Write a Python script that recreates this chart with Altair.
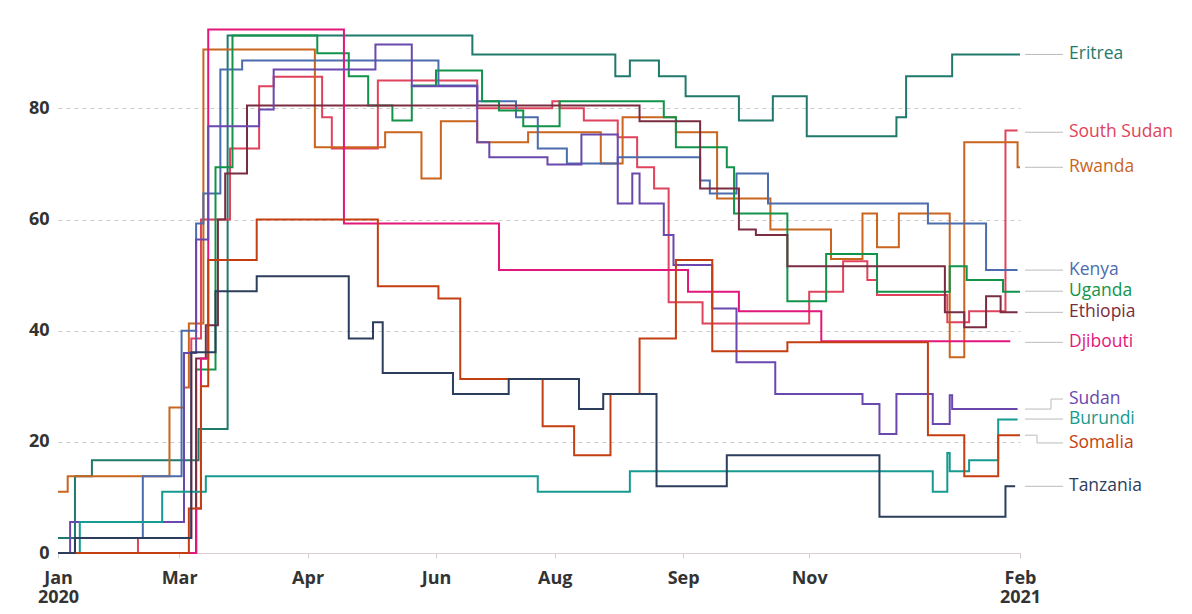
import altair as alt
import pandas as pd

# ---------------- data (days since 1 Jan 2020, stringency index) ----------------
COUNTRIES = ["Eritrea", "South Sudan", "Rwanda", "Kenya", "Uganda", "Ethiopia",
             "Djibouti", "Sudan", "Burundi", "Somalia", "Tanzania"]
COLORS = ["#1f7a6b", "#e0435c", "#c9651e", "#4b6cad", "#12934a", "#7a2c40",
          "#e2177c", "#6a48ae", "#169a91", "#c43e12", "#2c3e5c"]

ERITREA_DAY = [0, 7, 14, 58, 70, 171, 230, 236, 248, 259, 281, 295, 309, 346, 350, 369, 397]
ERITREA_VAL = [2.7, 13.8, 16.7, 22.3, 93.1, 89.7, 85.8, 88.6, 85.8, 82.2, 77.8, 82.2, 75.0, 78.4, 85.8, 89.7, 89.7]

SSUDAN_DAY = [0, 33, 55, 59, 71, 83, 89, 109, 113, 132, 173, 204, 207, 217, 231, 239, 246, 252, 266, 310, 324, 334, 338, 367, 376, 391, 396]
SSUDAN_VAL = [0, 2.7, 38.6, 60.0, 72.8, 84.0, 85.7, 78.4, 72.8, 85.0, 80.0, 81.3, 80.0, 77.8, 74.8, 69.4, 65.6, 45.1, 41.3, 47.0, 52.5, 49.1, 46.4, 41.5, 43.5, 76.0, 76.0]

RWANDA_DAY = [0, 4, 46, 52, 54, 60, 106, 135, 150, 158, 173, 194, 224, 233, 255, 272, 294, 319, 332, 338, 347, 368, 374, 396, 397]
RWANDA_VAL = [11.0, 13.8, 26.2, 29.8, 41.3, 90.6, 73.0, 75.7, 67.4, 77.7, 73.9, 75.7, 70.1, 78.4, 75.7, 63.8, 58.2, 52.9, 61.1, 55.0, 61.1, 35.2, 73.9, 69.4, 69.4]

KENYA_DAY = [0, 7, 35, 51, 57, 60, 67, 76, 157, 173, 189, 198, 210, 231, 265, 269, 280, 293, 359, 383, 396]
KENYA_VAL = [0, 2.7, 13.8, 40.0, 59.3, 64.7, 87.0, 88.6, 84.1, 81.3, 78.4, 72.8, 70.1, 71.2, 67.0, 64.7, 68.3, 62.9, 59.3, 50.9, 50.9]

UGANDA_DAY = [0, 57, 65, 72, 107, 120, 128, 138, 146, 156, 175, 182, 192, 207, 250, 255, 276, 279, 301, 317, 338, 368, 375, 390, 397]
UGANDA_VAL = [0, 33.0, 69.4, 93.1, 89.9, 85.8, 80.5, 77.8, 84.1, 86.8, 81.3, 79.6, 76.8, 81.3, 78.4, 73.0, 69.4, 61.1, 45.3, 53.8, 47.0, 51.6, 49.1, 47.0, 47.0]

ETHIOPIA_DAY = [0, 57, 61, 66, 69, 78, 240, 265, 281, 288, 301, 366, 374, 383, 389, 396]
ETHIOPIA_VAL = [0, 35.0, 41.0, 60.0, 68.3, 80.5, 77.7, 65.6, 58.2, 57.2, 51.6, 43.3, 40.6, 46.2, 43.3, 43.3]

DJIBOUTI_DAY = [0, 57, 59, 62, 118, 182, 260, 281, 315, 393]
DJIBOUTI_VAL = [0, 8.0, 35.0, 94.2, 59.3, 50.9, 47.0, 43.5, 38.1, 38.1]

SUDAN_DAY = [0, 5, 52, 57, 62, 83, 89, 131, 146, 173, 178, 202, 216, 231, 237, 240, 250, 254, 270, 280, 296, 332, 339, 346, 361, 368, 369, 396]
SUDAN_VAL = [0, 5.6, 36.0, 56.4, 76.8, 79.8, 87.0, 91.5, 84.0, 73.9, 71.2, 69.9, 75.3, 62.9, 68.3, 62.9, 57.2, 51.8, 44.0, 34.3, 28.6, 26.8, 21.4, 28.6, 23.2, 28.4, 25.9, 25.9]

BURUNDI_DAY = [0, 9, 43, 61, 198, 236, 361, 367, 368, 376, 388, 396]
BURUNDI_VAL = [0, 5.6, 11.0, 13.8, 11.0, 14.7, 11.0, 18.0, 14.7, 16.7, 24.0, 24.0]

SOMALIA_DAY = [0, 54, 59, 62, 82, 132, 157, 166, 200, 213, 228, 240, 255, 270, 301, 359, 374, 388, 397]
SOMALIA_VAL = [0, 8.0, 30.0, 52.7, 60.0, 48.0, 45.8, 31.3, 22.8, 17.6, 28.6, 38.6, 52.7, 36.3, 37.9, 21.2, 13.8, 21.2, 21.2]

TANZANIA_DAY = [0, 7, 55, 65, 82, 120, 130, 134, 163, 186, 215, 225, 247, 276, 339, 391, 395]
TANZANIA_VAL = [0, 2.7, 36.1, 47.1, 49.8, 38.6, 41.5, 32.4, 28.6, 31.3, 25.9, 28.6, 12.0, 17.6, 6.5, 12.0, 12.0]

SERIES_DAYS = [ERITREA_DAY, SSUDAN_DAY, RWANDA_DAY, KENYA_DAY, UGANDA_DAY, ETHIOPIA_DAY,
               DJIBOUTI_DAY, SUDAN_DAY, BURUNDI_DAY, SOMALIA_DAY, TANZANIA_DAY]
SERIES_VALS = [ERITREA_VAL, SSUDAN_VAL, RWANDA_VAL, KENYA_VAL, UGANDA_VAL, ETHIOPIA_VAL,
               DJIBOUTI_VAL, SUDAN_VAL, BURUNDI_VAL, SOMALIA_VAL, TANZANIA_VAL]

# label positions (value where each end label sits)
LABEL_POS = [89.7, 75.7, 69.4, 50.9, 47.1, 43.3, 37.9, 27.7, 24.1, 19.8, 12.0]

TICK_DAYS = [0, 50, 103, 156, 205, 258, 310, 397]
TICK_LABELS = ["Jan 2020", "Mar", "Apr", "Jun", "Aug", "Sep", "Nov", "Feb 2021"]
Y_TICKS = [0, 20, 40, 60, 80]

# ---------------- build tables ----------------
rows = []
for name, days, vals in zip(COUNTRIES, SERIES_DAYS, SERIES_VALS):
    for d, v in zip(days, vals):
        rows.append({"country": name, "day": d, "value": v})
df = pd.DataFrame(rows)

lab = pd.DataFrame({
    "country": COUNTRIES,
    "end": [v[-1] for v in SERIES_VALS],
    "lab": LABEL_POS,
})

# label expression for x ticks
expr = "''"
for d, t in reversed(list(zip(TICK_DAYS, TICK_LABELS))):
    parts = t.split(" ")
    txt = "[" + ",".join("'%s'" % p for p in parts) + "]" if len(parts) > 1 else "'%s'" % t
    expr = "datum.value == %d ? %s : %s" % (d, txt, expr)

FONT = "Open Sans"
xscale = alt.Scale(domain=[0, 397], nice=False, zero=False)
yscale = alt.Scale(domain=[0, 95], nice=False, zero=True)
color = alt.Color("country:N", scale=alt.Scale(domain=COUNTRIES, range=COLORS), legend=None)

lines = alt.Chart(df).mark_line(interpolate="step-after", strokeWidth=2).encode(
    x=alt.X("day:Q", scale=xscale, title=None,
            axis=alt.Axis(values=TICK_DAYS, labelExpr=expr, grid=False,
                          domainColor="#dccfd0", tickColor="#cfcfcf", tickSize=5,
                          labelFont=FONT, labelFontSize=18, labelFontWeight="bold",
                          labelColor="#333333", labelPadding=11, labelLineHeight=19,
                          labelOverlap=False, labelBound=False, labelFlush=False)),
    y=alt.Y("value:Q", scale=yscale, title=None,
            axis=alt.Axis(values=Y_TICKS, domain=False, ticks=False,
                          gridColor="#cccccc", gridDash=[4, 4], gridWidth=1,
                          labelFont=FONT, labelFontSize=18, labelFontWeight="bold",
                          labelColor="#333333", labelPadding=9)),
    color=color,
    detail="country:N",
)

RULE = dict(color="#bbbbbb", strokeWidth=1)
CONN_X0, CONN_X1 = 967, 1005
ELBOWS = {"Sudan": 993, "Somalia": 979}

straight = alt.Chart(lab).transform_filter(
    alt.FieldOneOfPredicate(field="country", oneOf=[c for c in COUNTRIES if c not in ELBOWS])
).mark_rule(**RULE).encode(
    x=alt.value(CONN_X0), x2=alt.value(CONN_X1), y=alt.Y("lab:Q", scale=yscale))

conn_layers = [straight]
for c, ex in ELBOWS.items():
    base = alt.Chart(lab).transform_filter(alt.datum.country == c)
    conn_layers.append(base.mark_rule(**RULE).encode(
        x=alt.value(CONN_X0), x2=alt.value(ex), y=alt.Y("end:Q", scale=yscale)))
    conn_layers.append(base.mark_rule(**RULE).encode(
        x=alt.value(ex), y=alt.Y("end:Q", scale=yscale), y2="lab:Q"))
    conn_layers.append(base.mark_rule(**RULE).encode(
        x=alt.value(ex), x2=alt.value(CONN_X1), y=alt.Y("lab:Q", scale=yscale)))

labels = alt.Chart(lab).mark_text(align="left", baseline="middle", font=FONT, fontSize=17.5).encode(
    x=alt.value(1011), y=alt.Y("lab:Q", scale=yscale), text="country:N", color=color)

chart = alt.layer(lines, *conn_layers, labels).properties(
    width=962, height=528,
    background="white",
    autosize=alt.AutoSizeParams(type="none"),
    padding={"left": 50, "top": 17, "right": 164, "bottom": 53},
).configure_view(stroke=None)

chart.save("out.html", embed_options={"renderer": "svg", "actions": False})
